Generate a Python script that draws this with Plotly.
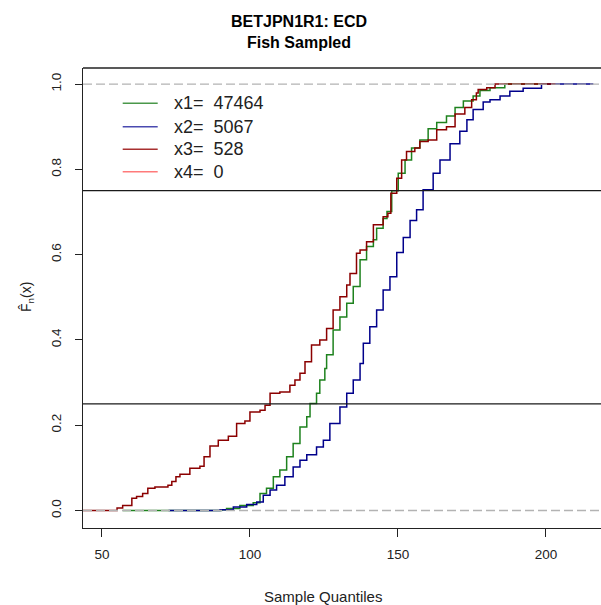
import plotly.graph_objects as go

# ---------------- data ----------------
series_names = ["x1", "x2", "x3", "x4"]
series_counts = [47464, 5067, 528, 0]
series_colors = ["#1E821E", "#00008B", "#8B0000", "#FF6A6A"]
legend_colors = ["#4a984a", "#4a4ab0", "#a83030", "#ff7a7a"]

# x1 (green)
x1_q = [90.4, 92.1, 96.6, 101.1, 103.4, 105.6, 107.9, 110.1, 112.4, 114.6, 116.9,
        119.2, 120.3, 122.5, 123.6, 125.3, 125.9, 128.1, 130.4, 132.7, 134.9, 137.2,
        139.4, 141.7, 142.8, 145.0, 146.3, 147.9, 150.1, 152.4, 154.6, 157.4, 160.2,
        163.1, 166.4, 169.3, 172.1, 175.4, 177.7, 181.1, 186.1]
x1_F = [0.002, 0.005, 0.012, 0.018, 0.040, 0.052, 0.079, 0.095, 0.126, 0.157, 0.196,
        0.220, 0.251, 0.275, 0.306, 0.333, 0.365, 0.423, 0.454, 0.486, 0.525, 0.588,
        0.619, 0.635, 0.662, 0.685, 0.701, 0.750, 0.791, 0.822, 0.850, 0.869, 0.895,
        0.910, 0.925, 0.945, 0.960, 0.972, 0.985, 0.991, 1.000]

# x2 (blue)
x2_q = [89.9, 94.4, 98.9, 102.3, 104.5, 106.8, 109.0, 111.8, 114.6, 116.9, 119.2,
        122.5, 124.8, 127.0, 130.4, 132.7, 134.9, 137.2, 138.3, 140.5, 142.8, 145.0,
        147.3, 149.6, 151.8, 154.1, 156.3, 158.5, 161.9, 164.2, 167.6, 170.9, 173.3,
        175.4, 178.8, 181.1, 184.5, 187.8, 192.3, 198.5]
x2_F = [0.002, 0.008, 0.014, 0.020, 0.036, 0.048, 0.059, 0.079, 0.102, 0.118, 0.131,
        0.149, 0.165, 0.204, 0.243, 0.275, 0.306, 0.345, 0.392, 0.431, 0.470, 0.517,
        0.548, 0.605, 0.640, 0.680, 0.705, 0.752, 0.791, 0.822, 0.860, 0.889, 0.916,
        0.940, 0.958, 0.963, 0.972, 0.983, 0.990, 1.000]

# x3 (dark red)
x3_q = [55.1, 57.0, 60.1, 61.7, 63.75, 65.5, 67.9, 72.3, 73.6, 75.0, 76.35, 79.7,
        83.1, 84.5, 86.5, 89.3, 92.7, 95.5, 98.3, 100.0, 103.4, 105.1, 106.8, 110.1,
        113.5, 115.2, 116.9, 118.6, 120.8, 123.6, 125.9, 128.1, 130.4, 132.7, 133.8,
        136.0, 137.2, 139.4, 141.7, 145.0, 146.6, 147.6, 149.6, 151.25, 152.9, 155.7,
        157.4, 160.2, 163.1, 166.4, 169.3, 172.6, 174.9, 176.5, 177.1, 180.0, 182.8]
x3_F = [0.006, 0.012, 0.029, 0.033, 0.040, 0.052, 0.055, 0.059, 0.068, 0.079, 0.085,
        0.099, 0.104, 0.126, 0.151, 0.165, 0.174, 0.204, 0.210, 0.231, 0.235, 0.247,
        0.275, 0.278, 0.294, 0.306, 0.322, 0.349, 0.388, 0.400, 0.427, 0.470, 0.501,
        0.529, 0.556, 0.603, 0.611, 0.630, 0.670, 0.689, 0.697, 0.744, 0.779, 0.822,
        0.842, 0.850, 0.865, 0.869, 0.893, 0.900, 0.930, 0.945, 0.963, 0.979, 0.987,
        0.991, 1.000]

# extent of each step function's horizontal tails
ext_lo = [57.0, 72.5, 34.7]
ext_hi = [201.4, 216.0, 203.2]

x_ticks = [50, 100, 150, 200]
y_ticks = [0.0, 0.2, 0.4, 0.6, 0.8, 1.0]
h_lines = [0.25, 0.75]
ref_lines = [0.0, 1.0]
x_range = [43.6, 218.6]
y_range = [-0.041, 1.0376]

title_lines = ["BETJPN1R1: ECD", "Fish Sampled"]
x_title = "Sample Quantiles"
y_title = "F\u0302<sub>n</sub>(x)"

# ---------------- layout geometry (pixels) ----------------
W, H = 601, 605
PL, PR, PT, PB = 83, 601, 68, 528
FONT = "Liberation Sans, Arial, sans-serif"


def px(x):
    return (x - PL) / (PR - PL)


def py(y):
    return (PB - y) / (PB - PT)


fig = go.Figure()

curves = [(x1_q, x1_F), (x2_q, x2_F), (x3_q, x3_F)]
for i, (q, F) in enumerate(curves):
    xs = [ext_lo[i]] + list(q) + [ext_hi[i]]
    ys = [0.0] + list(F) + [F[-1]]
    fig.add_trace(go.Scatter(
        x=xs, y=ys, mode="lines", line_shape="hv",
        line=dict(color=series_colors[i], width=1.5),
        showlegend=False, hoverinfo="skip"))

shapes = []
for v in ref_lines:
    shapes.append(dict(type="line", xref="paper", x0=0, x1=1, yref="y", y0=v, y1=v,
                       line=dict(color="#B3B3B3", width=1.3, dash="9px,4px"), layer="above"))
for v in h_lines:
    shapes.append(dict(type="line", xref="paper", x0=0, x1=1, yref="y", y0=v, y1=v,
                       line=dict(color="#1a1a1a", width=1.4), layer="above"))
shapes.append(dict(type="line", xref="paper", x0=0, x1=1, yref="paper", y0=1, y1=1,
                   line=dict(color="#222", width=1.4), layer="above"))

annotations = []
for k, t in enumerate(title_lines):
    annotations.append(dict(text="<b>%s</b>" % t, xref="paper", yref="paper",
                            x=px(299), y=py(21 + 21.5 * k), xanchor="center", yanchor="middle",
                            showarrow=False, font=dict(family=FONT, size=16, color="#000")))
annotations.append(dict(text=x_title, xref="paper", yref="paper", x=px(323), y=py(596),
                        xanchor="center", yanchor="middle", showarrow=False,
                        font=dict(family=FONT, size=15, color="#222")))
annotations.append(dict(text=y_title, xref="paper", yref="paper", x=px(27), y=py(297),
                        xanchor="center", yanchor="middle", showarrow=False, textangle=-90,
                        font=dict(family=FONT, size=14, color="#222")))

row_y = [103.3, 126.7, 149.3, 171.7]
for i, name in enumerate(series_names):
    shapes.append(dict(type="line", xref="paper", yref="paper",
                       x0=px(122.7), x1=px(157.7), y0=py(row_y[i]), y1=py(row_y[i]),
                       line=dict(color=legend_colors[i], width=1.5), layer="above"))
    annotations.append(dict(text="%s=  %d" % (name, series_counts[i]), xref="paper", yref="paper",
                            x=px(172), y=py(row_y[i]), xanchor="left", yanchor="middle",
                            showarrow=False, font=dict(family=FONT, size=18, color="#222")))

fig.update_layout(
    width=W, height=H,
    margin=dict(l=PL, r=W - PR, t=PT, b=H - PB, pad=0),
    paper_bgcolor="white", plot_bgcolor="white",
    showlegend=False,
    shapes=shapes, annotations=annotations,
    xaxis=dict(range=x_range, tickvals=x_ticks, ticks="outside", ticklen=8, tickwidth=1.3,
               tickcolor="#222", showline=True, linecolor="#222", linewidth=1.4,
               showgrid=False, zeroline=False, automargin=False, ticklabelstandoff=6,
               tickfont=dict(family=FONT, size=13.5, color="#222")),
    yaxis=dict(range=y_range, tickvals=y_ticks, ticktext=["%.1f" % v for v in y_ticks],
               tickangle=-90, ticks="outside", ticklen=7, tickwidth=1.3, tickcolor="#222",
               showline=True, linecolor="#222", linewidth=1.4, showgrid=False,
               zeroline=False, automargin=False, ticklabelstandoff=8,
               tickfont=dict(family=FONT, size=13.5, color="#222")),
)

fig.write_html("out.html", config={"displayModeBar": False},
               post_script="document.body.style.margin='0px';document.body.style.overflow='hidden';")
